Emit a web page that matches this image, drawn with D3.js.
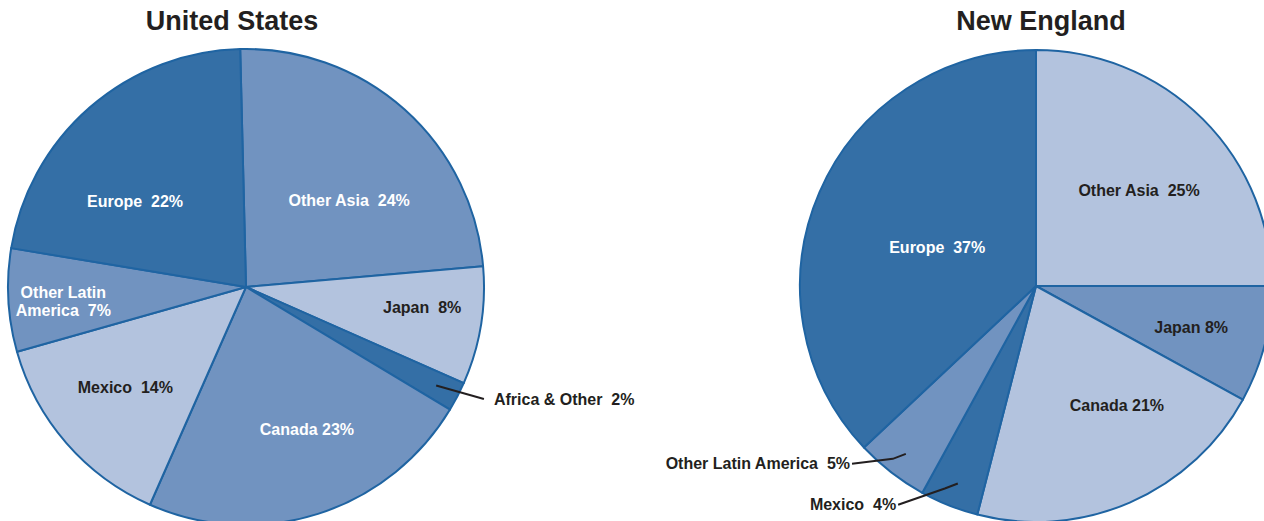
<!DOCTYPE html>
<html>
<head>
<meta charset="utf-8">
<script src="https://cdn.jsdelivr.net/npm/d3@7"></script>
<style>
  body { margin: 0; background: #fff; }
  text { font-family: "Liberation Sans", Arial, sans-serif; font-weight: bold; }
</style>
</head>
<body>
<script>
var width = 1264,
    height = 521;

// data
var usCategories = ["Other Asia", "Japan", "Africa & Other", "Canada", "Mexico", "Other Latin America", "Europe"];
var usValues = [24, 8, 2, 23, 14, 7, 22];
var neCategories = ["Other Asia", "Japan", "Canada", "Mexico", "Other Latin America", "Europe"];
var neValues = [25, 8, 21, 4, 5, 37];

// styling
var dark = "#346fa6", mid = "#7193c0", light = "#b3c3de", lineCol = "#1f64a2", ink = "#231f20";
var usFill = [mid, light, dark, mid, light, mid, dark];
var neFill = [light, mid, light, dark, mid, dark];

// label layout: [angle deg clockwise from north, distance in radii, text colour, gap, external]
var usLabelPos = [
    [50.1, 0.565, "#fff", "  "],
    [96.5, 0.745, ink, "  "],
    [114.3, 1.143, ink, "  ", true],
    [156.8, 0.65, "#fff", " "],
    [230.2, 0.66, ink, "  "],
    [265.6, 0.77, "#fff", "  "],
    [307.8, 0.59, "#fff", "  "]
];
var neLabelPos = [
    [47.0, 0.597, ink, "  "],
    [104.8, 0.68, ink, " "],
    [145.8, 0.61, ink, " "],
    [212.6, 1.10, ink, "  ", true],
    [226.3, 1.09, ink, "  ", true],
    [291.5, 0.45, "#fff", "  "]
];
// the two-line label on the US chart
var usWrap = { "Other Latin America": ["Other Latin", "America"] };

var svg = d3.select("body").append("svg")
    .attr("width", width)
    .attr("height", height);

function drawPie(opts) {
    var g = svg.append("g")
        .attr("transform", "translate(" + opts.cx + "," + opts.cy + ")");

    svg.append("text")
        .attr("x", opts.titleX)
        .attr("y", 30)
        .attr("text-anchor", "middle")
        .attr("font-size", "27px")
        .attr("fill", ink)
        .text(opts.title);

    var pie = d3.pie()
        .sort(null)
        .value(function (d) { return d; })
        .startAngle(opts.start)
        .endAngle(opts.start + 2 * Math.PI);

    var arcs = pie(opts.values);

    var arc = d3.arc()
        .innerRadius(0)
        .outerRadius(opts.r);

    g.selectAll("path.slice")
        .data(arcs)
        .enter().append("path")
        .attr("class", "slice")
        .attr("d", arc)
        .attr("fill", function (d, i) { return opts.fills[i]; })
        .attr("stroke", lineCol)
        .attr("stroke-width", 2)
        .attr("stroke-linejoin", "round");

    var line = d3.line();

    arcs.forEach(function (d, i) {
        var lp = opts.labelPos[i],
            a = lp[0] * Math.PI / 180,
            x = Math.sin(a) * lp[1] * opts.r,
            y = -Math.cos(a) * lp[1] * opts.r,
            name = opts.categories[i],
            pct = opts.values[i] + "%";

        if (lp[4]) {
            // external label with a leader line to the slice
            var m = (d.startAngle + d.endAngle) / 2,
                ax = Math.sin(m) * opts.r * 0.9,
                ay = -Math.cos(m) * opts.r * 0.9,
                right = x < ax,
                tx = right ? x + 2 : x - 10,
                pts;
            if (right) {
                // small kink near the slice
                pts = [[ax, ay], [ax - 13, ay + 5], [tx, y]];
            } else {
                pts = [[ax, ay], [tx, y]];
            }
            g.append("path")
                .attr("d", line(pts))
                .attr("fill", "none")
                .attr("stroke", ink)
                .attr("stroke-width", 2);
            g.append("text")
                .attr("x", x)
                .attr("y", y)
                .attr("dy", "0.35em")
                .attr("text-anchor", right ? "end" : "start")
                .attr("font-size", "16px")
                .attr("fill", lp[2])
                .style("white-space", "pre")
                .text(name + lp[3] + pct);
            return;
        }

        var lines = (opts.wrap && opts.wrap[name]) ? opts.wrap[name].slice() : [name];
        lines[lines.length - 1] += lp[3] + pct;
        var t = g.append("text")
            .attr("text-anchor", "middle")
            .attr("font-size", "16px")
            .attr("fill", lp[2])
            .style("white-space", "pre");
        lines.forEach(function (s, k) {
            t.append("tspan")
                .attr("x", x)
                .attr("y", y + (k - (lines.length - 1) / 2) * 18)
                .attr("dy", "0.35em")
                .text(s);
        });
    });
}

drawPie({
    title: "United States", titleX: 232,
    cx: 246, cy: 287, r: 238, start: -0.0244,
    categories: usCategories, values: usValues,
    fills: usFill, labelPos: usLabelPos, wrap: usWrap
});

drawPie({
    title: "New England", titleX: 1041,
    cx: 1036, cy: 286, r: 236, start: 0,
    categories: neCategories, values: neValues,
    fills: neFill, labelPos: neLabelPos
});
</script>
</body>
</html>
